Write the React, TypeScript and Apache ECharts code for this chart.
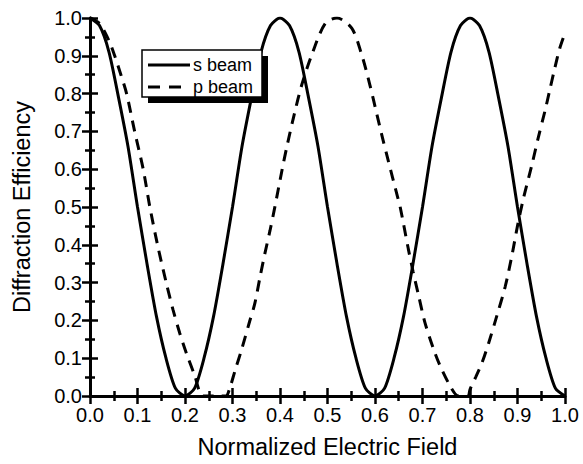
import React, { useEffect, useRef } from "react";
import * as echarts from "echarts";

// x positions (Normalized Electric Field) for the s beam
const sX = [
  0, 0.02, 0.04, 0.06, 0.08, 0.1, 0.12, 0.14, 0.16, 0.18,
  0.2, 0.22, 0.24, 0.26, 0.28, 0.3, 0.32, 0.34, 0.36, 0.38,
  0.4, 0.42, 0.44, 0.46, 0.48, 0.5, 0.52, 0.54, 0.56, 0.58,
  0.6, 0.62, 0.64, 0.66, 0.68, 0.7, 0.72, 0.74, 0.76, 0.78,
  0.8, 0.82, 0.84, 0.86, 0.88, 0.9, 0.92, 0.94, 0.96, 0.98, 1.0,
];
// s beam diffraction efficiency
const sBeam = [
  1.0, 0.98, 0.91, 0.79, 0.66, 0.5, 0.35, 0.21, 0.1, 0.02,
  0.0, 0.02, 0.1, 0.21, 0.35, 0.5, 0.66, 0.79, 0.91, 0.98,
  1.0, 0.98, 0.91, 0.79, 0.66, 0.5, 0.35, 0.21, 0.1, 0.02,
  0.0, 0.02, 0.1, 0.21, 0.35, 0.5, 0.66, 0.79, 0.91, 0.98,
  1.0, 0.98, 0.91, 0.79, 0.66, 0.5, 0.35, 0.21, 0.1, 0.02, 0.0,
];

// p beam x positions and efficiency
const pX = [
  0, 0.02, 0.04, 0.052, 0.065, 0.077, 0.094, 0.112, 0.126, 0.143,
  0.161, 0.175, 0.189, 0.203, 0.22, 0.238, 0.262, 0.286, 0.294, 0.306,
  0.319, 0.336, 0.347, 0.358, 0.368, 0.379, 0.389, 0.404, 0.414, 0.43,
  0.446, 0.467, 0.495, 0.52, 0.551, 0.572, 0.589, 0.604, 0.614, 0.628,
  0.646, 0.653, 0.67, 0.68, 0.691, 0.705, 0.723, 0.737, 0.761, 0.775,
  0.787, 0.796, 0.8, 0.812, 0.825, 0.839, 0.856, 0.874, 0.888, 0.9,
  0.912, 0.93, 0.944, 0.958, 0.968, 0.979, 0.989, 1.0,
];
const pBeam = [
  1.0, 0.985, 0.94, 0.9, 0.85, 0.8, 0.7, 0.6, 0.5, 0.395,
  0.297, 0.227, 0.166, 0.113, 0.056, 0.0, 0.0, 0.0, 0.02, 0.07,
  0.122, 0.197, 0.245, 0.315, 0.376, 0.438, 0.499, 0.596, 0.657, 0.745,
  0.824, 0.903, 0.985, 1.0, 0.973, 0.903, 0.824, 0.745, 0.692, 0.622,
  0.534, 0.5, 0.39, 0.33, 0.27, 0.195, 0.125, 0.08, 0.02, 0.0,
  0.0, 0.0, 0.017, 0.05, 0.087, 0.139, 0.21, 0.289, 0.37, 0.45,
  0.52, 0.61, 0.685, 0.755, 0.81, 0.87, 0.92, 0.96,
];

const seriesNames = ["s beam", "p beam"];
const xTitle = "Normalized Electric Field";
const yTitle = "Diffraction Efficiency";

const FONT = "'Liberation Sans', Arial, Helvetica, sans-serif";

export default function App() {
  const ref = useRef<HTMLDivElement>(null);

  useEffect(() => {
    if (!ref.current) return;
    const chart = echarts.init(ref.current, null, { renderer: "svg" });

    const commonAxis = {
      type: "value" as const,
      min: 0,
      max: 1,
      interval: 0.1,
      axisLine: { show: true, lineStyle: { color: "#000", width: 3 } },
      axisTick: { show: true, inside: true, length: 8, lineStyle: { color: "#000", width: 2.5 } },
      minorTick: { show: true, splitNumber: 2, length: 5, lineStyle: { color: "#000", width: 2.5 } },
      splitLine: { show: false },
      minorSplitLine: { show: false },
    };

    const labelStyle = {
      color: "#000",
      fontSize: 20,
      fontFamily: FONT,
      formatter: (v: number) => v.toFixed(1),
    };

    const option = {
      animation: false,
      backgroundColor: "#fff",
      grid: { left: 90, right: 18, top: 18, bottom: 66, containLabel: false },
      xAxis: [
        {
          ...commonAxis,
          position: "bottom",
          name: xTitle,
          nameLocation: "middle",
          nameGap: 39,
          nameTextStyle: { color: "#000", fontSize: 23.5, fontFamily: FONT },
          axisLabel: { ...labelStyle, margin: 9, showMaxLabel: true, showMinLabel: true },
        },
        {
          ...commonAxis,
          position: "top",
          axisLine: { show: true, lineStyle: { color: "#000", width: 2 } },
          axisLabel: { show: false },
        },
      ],
      yAxis: [
        {
          ...commonAxis,
          position: "left",
          name: yTitle,
          nameLocation: "middle",
          nameGap: 56,
          nameTextStyle: { color: "#000", fontSize: 23.5, fontFamily: FONT },
          axisLabel: { ...labelStyle, margin: 8 },
        },
        {
          ...commonAxis,
          position: "right",
          axisLabel: { show: false },
        },
      ],
      series: [
        {
          name: seriesNames[0],
          type: "line",
          xAxisIndex: 0,
          yAxisIndex: 0,
          data: sX.map((x, i) => [x, sBeam[i]]),
          showSymbol: false,
          symbol: "none",
          smooth: 0.25,
          lineStyle: { color: "#000", width: 3 },
          z: 3,
        },
        {
          name: seriesNames[1],
          type: "line",
          xAxisIndex: 0,
          yAxisIndex: 0,
          data: pX.map((x, i) => [x, pBeam[i]]),
          showSymbol: false,
          symbol: "none",
          smooth: 0.3,
          lineStyle: { color: "#000", width: 3, type: [11, 8] },
          z: 3,
        },
      ],
      graphic: [
        { type: "rect", shape: { x: 148, y: 56, width: 120, height: 47 }, style: { fill: "#000" }, z: 10 },
        {
          type: "rect",
          shape: { x: 142, y: 50, width: 120, height: 47 },
          style: { fill: "#fff", stroke: "#000", lineWidth: 1.5 },
          z: 11,
        },
        { type: "line", shape: { x1: 148, y1: 65, x2: 190, y2: 65 }, style: { stroke: "#000", lineWidth: 3 }, z: 12 },
        {
          type: "text",
          x: 193,
          y: 65,
          style: { text: seriesNames[0], fill: "#000", fontSize: 18, fontFamily: FONT, verticalAlign: "middle" },
          z: 12,
        },
        {
          type: "line",
          shape: { x1: 148, y1: 87, x2: 190, y2: 87 },
          style: { stroke: "#000", lineWidth: 3, lineDash: [12, 9] },
          z: 12,
        },
        {
          type: "text",
          x: 193,
          y: 87,
          style: { text: seriesNames[1], fill: "#000", fontSize: 18, fontFamily: FONT, verticalAlign: "middle" },
          z: 12,
        },
      ],
    };

    chart.setOption(option as any);
    return () => chart.dispose();
  }, []);

  return (
    <div
      ref={ref}
      style={{ position: "absolute", left: 0, top: 0, width: 583, height: 464, background: "#fff" }}
    />
  );
}
